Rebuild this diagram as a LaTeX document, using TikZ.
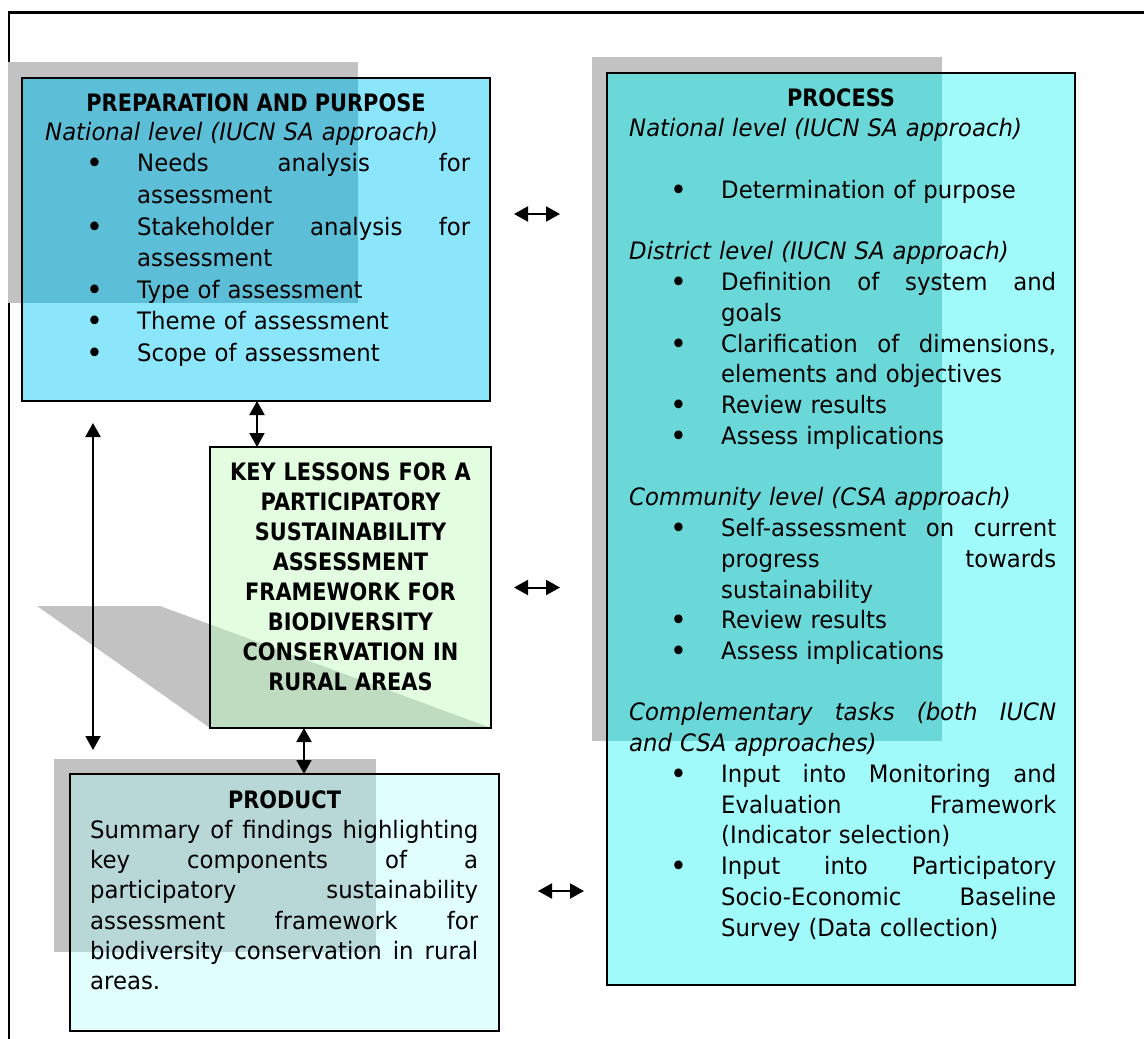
\documentclass[tikz,border=0pt]{standalone}
\usepackage{fontspec}
\setmainfont{DejaVu Sans}[FakeStretch=0.95]
\newfontfamily\headfont{DejaVu Sans}[FakeStretch=0.87]
\usetikzlibrary{arrows.meta}
\setlength\parindent{0pt}
\setlength\parskip{0pt}

\definecolor{prepfill}{HTML}{8CE6FB}
\definecolor{prepshade}{HTML}{5CBFD7}
\definecolor{procfill}{HTML}{A0FAFA}
\definecolor{procshade}{HTML}{6AD8D8}
\definecolor{keyfill}{HTML}{E2FDE0}
\definecolor{keyshade}{HTML}{C0DCC0}
\definecolor{prodfill}{HTML}{E0FEFE}
\definecolor{prodshade}{HTML}{B8D8D8}
\definecolor{shadowgray}{HTML}{C2C2C2}

% bullet list helpers: bullet centred 50pt in, item text 92pt in
\newlength\bulletcol \setlength\bulletcol{92pt}
\newcommand\bulletmark{\raisebox{-2pt}{\fontsize{30}{30}\selectfont\textbullet}}
\newcommand\bitem[1]{\makebox[\bulletcol][l]{\hspace*{50pt}\makebox[0pt]{\bulletmark}}#1}
\newcommand\cont[1]{\hspace*{\bulletcol}#1}
% fully justified line: words separated by \hfill
\newcommand\jus[2]{\leavevmode\hbox to #1{#2}}
\newcommand\fst{\rule{0pt}{22pt}}

\begin{document}
\begin{tikzpicture}[x=1pt,y=-1pt,
  box/.style={inner sep=0pt, outer sep=0pt},
  edge/.style={draw=black, line width=1.7pt},
  link/.style={line width=2pt, {Triangle[length=14pt,width=15pt]}-{Triangle[length=14pt,width=15pt]}},
  body/.style={inner sep=0pt, anchor=north west, align=left},
  head/.style={anchor=base, inner sep=0pt, font=\headfont\bfseries\fontsize{24}{30}\selectfont}]

\useasboundingbox (0,0) rectangle (1144,1039);
\fill[white] (0,0) rectangle (1144,1039);

% outer frame
\draw[line width=2.5pt] (1144,12.5) -- (9,12.5) -- (9,1039);

% ---- preparation and purpose ----
\fill[shadowgray] (8,62) rectangle (358,303);
\node[box, fill=prepfill, minimum width=468pt, minimum height=323pt] (prep) at (256,239.5) {};
\begin{scope}
  \clip (prep.north west) rectangle (prep.south east);
  \fill[prepshade] (8,62) rectangle (358,303);
\end{scope}
\draw[edge] (prep.north west) rectangle (prep.south east);
\node[head] (prephead) at (256,111.7) {PREPARATION AND PURPOSE};
\node[body, text width=425pt, font=\fontsize{24}{31.6}\selectfont] (prepbody) at (45,118) {%
\fst\textit{National level (IUCN SA approach)}\\
\bitem{\jus{333pt}{Needs\hfill analysis\hfill for}}\\
\cont{assessment}\\
\bitem{\jus{333pt}{Stakeholder\hfill analysis\hfill for}}\\
\cont{assessment}\\
\bitem{Type of assessment}\\
\bitem{Theme of assessment}\\
\bitem{Scope of assessment}};

% ---- process ----
\fill[shadowgray] (592,57) rectangle (942,741);
\node[box, fill=procfill, minimum width=468pt, minimum height=912pt] (proc) at (841,529) {};
\begin{scope}
  \clip (proc.north west) rectangle (proc.south east);
  \fill[procshade] (592,57) rectangle (942,741);
\end{scope}
\draw[edge] (proc.north west) rectangle (proc.south east);
\node[head] (prochead) at (841,106.7) {PROCESS};
\node[body, text width=427pt, font=\fontsize{24}{30.74}\selectfont] (procbody) at (629,114.7) {%
\fst\textit{National level (IUCN SA approach)}\\
\mbox{}\\
\bitem{Determination of purpose}\\
\mbox{}\\
\textit{District level (IUCN SA approach)}\\
\bitem{\jus{335pt}{Definition\hfill of\hfill system\hfill and}}\\
\cont{goals}\\
\bitem{\jus{335pt}{Clarification\hfill of\hfill dimensions,}}\\
\cont{elements and objectives}\\
\bitem{Review results}\\
\bitem{Assess implications}\\
\mbox{}\\
\textit{Community level (CSA approach)}\\
\bitem{\jus{335pt}{Self-assessment\hfill on\hfill current}}\\
\cont{\jus{335pt}{progress\hfill towards}}\\
\cont{sustainability}\\
\bitem{Review results}\\
\bitem{Assess implications}\\
\mbox{}\\
\jus{427pt}{\itshape Complementary\hfill tasks\hfill (both\hfill IUCN}\\
\textit{and CSA approaches)}\\
\bitem{\jus{335pt}{Input\hfill into\hfill Monitoring\hfill and}}\\
\cont{\jus{335pt}{Evaluation\hfill Framework}}\\
\cont{(Indicator selection)}\\
\bitem{\jus{335pt}{Input\hfill into\hfill Participatory}}\\
\cont{\jus{335pt}{Socio-Economic\hfill Baseline}}\\
\cont{Survey (Data collection)}};

% ---- key lessons ----
\fill[shadowgray] (37,606) -- (160,606) -- (491,728) -- (210,728) -- cycle;
\node[box, fill=keyfill, minimum width=281pt, minimum height=281pt] (key) at (350.5,587.5) {};
\begin{scope}
  \clip (key.north west) rectangle (key.south east);
  \fill[keyshade] (37,606) -- (160,606) -- (491,728) -- (210,728) -- cycle;
\end{scope}
\draw[edge] (key.north west) rectangle (key.south east);
\node[anchor=north, inner sep=0pt, text width=275pt, align=center,
      font=\headfont\bfseries\fontsize{24}{30}\selectfont] (keytext) at (350.5,458) {%
\fst KEY LESSONS FOR A\\
PARTICIPATORY\\
SUSTAINABILITY\\
ASSESSMENT\\
FRAMEWORK FOR\\
BIODIVERSITY\\
CONSERVATION IN\\
RURAL AREAS};

% ---- product ----
\fill[shadowgray] (54,759) rectangle (376,952);
\node[box, fill=prodfill, minimum width=429pt, minimum height=257pt] (prod) at (284.5,902.5) {};
\begin{scope}
  \clip (prod.north west) rectangle (prod.south east);
  \fill[prodshade] (54,759) rectangle (376,952);
\end{scope}
\draw[edge] (prod.north west) rectangle (prod.south east);
\node[head] (prodhead) at (284.5,808) {PRODUCT};
\node[body, text width=388pt, font=\fontsize{24}{30.2}\selectfont] (prodbody) at (90,816.3) {%
\fst\jus{388pt}{Summary\hfill of\hfill findings\hfill highlighting}\\
\jus{388pt}{key\hfill components\hfill of\hfill a}\\
\jus{388pt}{participatory\hfill sustainability}\\
\jus{388pt}{assessment\hfill framework\hfill for}\\
\jus{388pt}{biodiversity\hfill conservation\hfill in\hfill rural}\\
areas.};

% ---- connectors ----
\coordinate (a1l) at (514,214);  \coordinate (a1r) at (560,214);
\coordinate (a2l) at (514,587.5); \coordinate (a2r) at (560,587.5);
\coordinate (a3l) at (538,891);  \coordinate (a3r) at (584,891);
\draw[link] (a1l) -- (a1r);
\draw[link] (a2l) -- (a2r);
\draw[link] (a3l) -- (a3r);

\coordinate (v1) at (257,0);
\coordinate (v2) at (304,0);
\draw[link] (prep.south -| v1) -- (key.north -| v1);
\draw[link] (key.south -| v2) -- (prod.north -| v2);

\coordinate (v3t) at (93,423); \coordinate (v3b) at (93,750);
\draw[link] (v3t) -- (v3b);
\end{tikzpicture}
\end{document}
